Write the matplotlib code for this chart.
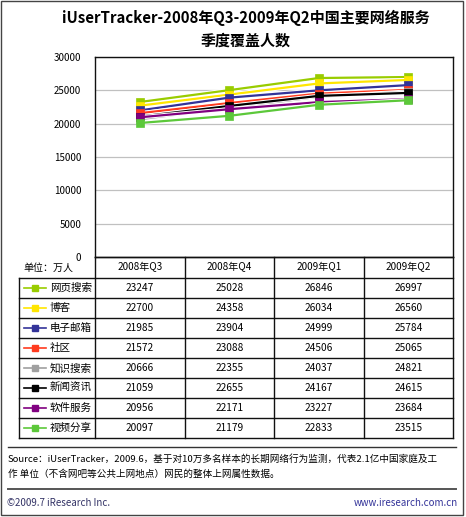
import matplotlib
matplotlib.use("Agg")
import matplotlib.pyplot as plt
from matplotlib.lines import Line2D
from matplotlib.patches import Rectangle
import matplotlib.patheffects as pe

plt.rcParams['font.family'] = ['Noto Sans CJK SC', 'DejaVu Sans']

quarters = ["2008年Q3", "2008年Q4", "2009年Q1", "2009年Q2"]
series_names = ["网页搜索", "博客", "电子邮箱", "社区", "知识搜索", "新闻资讯", "软件服务", "视频分享"]
web_search = [23247, 25028, 26846, 26997]
blog = [22700, 24358, 26034, 26560]
email = [21985, 23904, 24999, 25784]
community = [21572, 23088, 24506, 25065]
knowledge = [20666, 22355, 24037, 24821]
news = [21059, 22655, 24167, 24615]
software = [20956, 22171, 23227, 23684]
video = [20097, 21179, 22833, 23515]
series_values = [web_search, blog, email, community, knowledge, news, software, video]
colors = ["#99CC00", "#FFE600", "#333399", "#FF3B1F", "#A0A0A0", "#000000", "#800080", "#5CC83A"]
yticks = [0, 5000, 10000, 15000, 20000, 25000, 30000]

W, H = 466, 517
fig = plt.figure(figsize=(W / 100, H / 100), dpi=100)

def fx(x):
    return x / W

def fy(y):
    return 1 - y / H

# Plot area
pl, pr, pt, pb = 95, 453, 57, 257
ax = fig.add_axes([fx(pl), fy(pb), (pr - pl) / W, (pb - pt) / H])
xs = [i + 0.5 for i in range(len(quarters))]
for k, (vals, c) in enumerate(zip(series_values, colors)):
    ax.plot(xs, vals, color=c, lw=1.6,
            path_effects=[pe.Stroke(linewidth=3.0, foreground='white'), pe.Normal()],
            zorder=3 + k * 0.01)
    ax.plot(xs, vals, ls='none', marker='s', ms=5.3, mec=c, mfc=c, mew=0.5,
            zorder=3 + k * 0.01 + 0.005)
ax.set_xlim(0, len(quarters))
ax.set_ylim(0, 30000)
ax.set_yticks(yticks)
ax.set_yticklabels([str(v) for v in yticks], fontsize=7)
ax.set_xticks([])
ax.tick_params(axis='y', length=0, pad=10)
ax.grid(axis='y', color='#C0C0C0', lw=0.9)
ax.set_axisbelow(True)
for s in ax.spines.values():
    s.set_color('#111111')
    s.set_linewidth(1.0)

# Title
fig.text(fx(246), fy(18), "iUserTracker-2008年Q3-2009年Q2中国主要网络服务",
         ha='center', va='center', fontsize=10.8, fontweight='bold')
fig.text(fx(246), fy(41), "季度覆盖人数", ha='center', va='center',
         fontsize=10.8, fontweight='bold')

# Table
def hline(x0, x1, y, lw=1.0, color='#111111'):
    fig.add_artist(Line2D([fx(x0), fx(x1)], [fy(y), fy(y)], color=color, lw=lw,
                          transform=fig.transFigure))

def vline(x, y0, y1, lw=1.0, color='#111111'):
    fig.add_artist(Line2D([fx(x), fx(x)], [fy(y0), fy(y1)], color=color, lw=lw,
                          transform=fig.transFigure))

col_x = [pl + (pr - pl) * i / len(quarters) for i in range(len(quarters) + 1)]
tl = 19
header_top, header_bot = pb, 278
row_h = (438 - header_bot) / len(series_names)
table_bot = header_bot + row_h * len(series_names)

hline(pl, pr, header_top)
for i in range(len(series_names) + 1):
    hline(tl, pr, header_bot + i * row_h)
vline(tl, header_bot, table_bot)
for x in col_x:
    vline(x, header_top, table_bot)

fig.text(fx(23), fy(267.5), "单位：万人", ha='left', va='center', fontsize=7.2)
for j, q in enumerate(quarters):
    fig.text(fx((col_x[j] + col_x[j + 1]) / 2), fy((header_top + header_bot) / 2), q,
             ha='center', va='center', fontsize=7.2)

for i, (name, vals, c) in enumerate(zip(series_names, series_values, colors)):
    yc = header_bot + (i + 0.5) * row_h
    fig.add_artist(Line2D([fx(24), fx(46)], [fy(yc), fy(yc)], color=c, lw=1.2,
                          transform=fig.transFigure))
    fig.add_artist(Line2D([fx(35)], [fy(yc)], color=c, marker='s', ms=4.5, mec=c,
                          mfc=c, transform=fig.transFigure))
    fig.text(fx(50), fy(yc), name, ha='left', va='center', fontsize=7.6)
    for j, v in enumerate(vals):
        fig.text(fx((col_x[j] + col_x[j + 1]) / 2), fy(yc), str(v),
                 ha='center', va='center', fontsize=7.3)

# Footer
hline(8, 456, 447, lw=1.0, color='#333333')
fig.text(fx(8), fy(459), "Source：iUserTracker，2009.6，基于对10万多名样本的长期网络行为监测，代表2.1亿中国家庭及工",
         ha='left', va='center', fontsize=6.9)
fig.text(fx(8), fy(474), "作 单位（不含网吧等公共上网地点）网民的整体上网属性数据。",
         ha='left', va='center', fontsize=6.9)
hline(8, 456, 489, lw=1.4, color='#555555')
fig.text(fx(7), fy(503), "©2009.7 iResearch Inc.", ha='left', va='center',
         fontsize=7.0, color='#333366')
fig.text(fx(458), fy(503), "www.iresearch.com.cn", ha='right', va='center',
         fontsize=7.0, color='#333399')

# Outer border
fig.add_artist(Rectangle((fx(1), fy(515)), (463 - 1) / W, (515 - 1) / H, fill=False,
                         edgecolor='#444444', lw=1.0, transform=fig.transFigure))

fig.savefig("out.png", dpi=100)
